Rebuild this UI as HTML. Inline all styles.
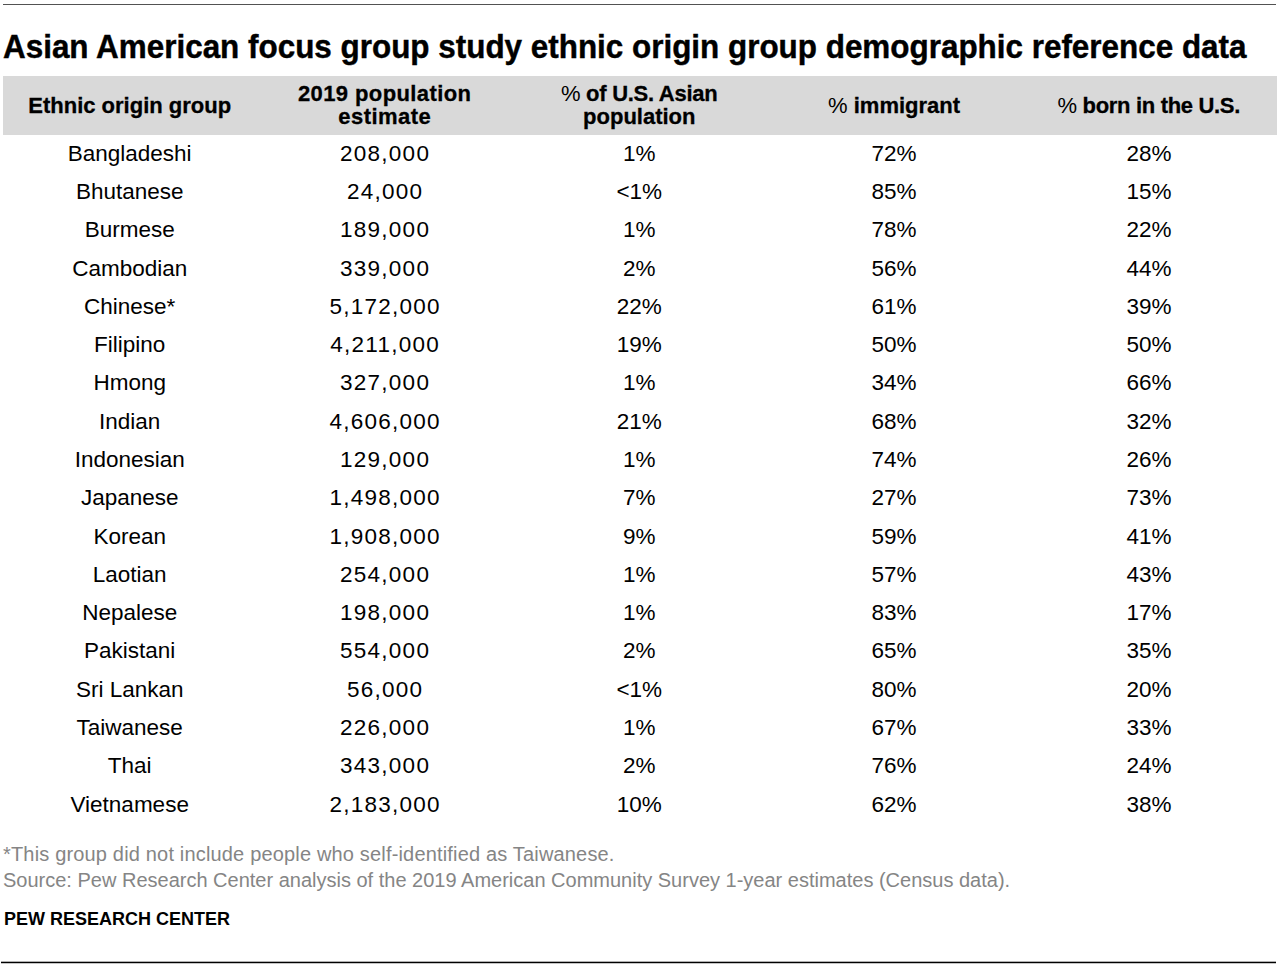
<!DOCTYPE html>
<html><head><meta charset="utf-8"><title>Asian American focus group study ethnic origin group demographic reference data</title>
<style>
html,body{margin:0;padding:0;background:#fff;}
body{width:1280px;height:968px;position:relative;overflow:hidden;font-family:"Liberation Sans",sans-serif;color:#000;}
.a{position:absolute;line-height:0;white-space:nowrap;}
.c{text-align:center;width:254.8px;}
.t{font-weight:bold;font-size:34px;left:2.5px;-webkit-text-stroke:0.45px #000;transform-origin:0 0;transform:scaleX(0.9240);}
.h{font-weight:bold;font-size:22px;-webkit-text-stroke:0.3px #000;}
.h i{font-style:normal;font-weight:normal;-webkit-text-stroke:0;}
.r{font-size:22.5px;}
.n{letter-spacing:1.25px;text-indent:1.25px;}
.f{font-size:20px;color:#858585;left:3px;}
.p{font-size:18px;font-weight:bold;left:4px;}
.ln{position:absolute;}
</style></head><body>

<div class="ln" style="left:3px;top:4px;width:1273px;height:1px;background:#525252"></div>
<div class="a t" style="top:46.01px">Asian American focus group study ethnic origin group demographic reference data</div>
<div class="ln" style="left:3px;top:76px;width:1274px;height:59px;background:#d9d9d9"></div>
<div class="a c h" style="left:2.3px;top:106.07px">Ethnic origin group</div>
<div class="a c h" style="left:257.1px;top:93.77px;letter-spacing:0.40px;text-indent:0.40px">2019 population</div>
<div class="a c h" style="left:257.1px;top:116.97px;letter-spacing:0.45px;text-indent:0.45px">estimate</div>
<div class="a c h" style="left:511.9px;top:93.77px;letter-spacing:-0.28px;text-indent:-0.28px"><i>%</i> of U.S. Asian</div>
<div class="a c h" style="left:511.9px;top:116.97px">population</div>
<div class="a c h" style="left:766.7px;top:106.07px"><i>%</i> immigrant</div>
<div class="a c h" style="left:1021.5px;top:106.07px;letter-spacing:-0.32px;text-indent:-0.32px"><i>%</i> born in the U.S.</div>
<div class="a c r" style="left:2.3px;top:153.70px">Bangladeshi</div>
<div class="a c r n" style="left:257.1px;top:153.70px">208,000</div>
<div class="a c r" style="left:511.9px;top:153.70px">1%</div>
<div class="a c r" style="left:766.7px;top:153.70px">72%</div>
<div class="a c r" style="left:1021.5px;top:153.70px">28%</div>
<div class="a c r" style="left:2.3px;top:191.99px">Bhutanese</div>
<div class="a c r n" style="left:257.1px;top:191.99px">24,000</div>
<div class="a c r" style="left:511.9px;top:191.99px">&lt;1%</div>
<div class="a c r" style="left:766.7px;top:191.99px">85%</div>
<div class="a c r" style="left:1021.5px;top:191.99px">15%</div>
<div class="a c r" style="left:2.3px;top:230.28px">Burmese</div>
<div class="a c r n" style="left:257.1px;top:230.28px">189,000</div>
<div class="a c r" style="left:511.9px;top:230.28px">1%</div>
<div class="a c r" style="left:766.7px;top:230.28px">78%</div>
<div class="a c r" style="left:1021.5px;top:230.28px">22%</div>
<div class="a c r" style="left:2.3px;top:268.57px">Cambodian</div>
<div class="a c r n" style="left:257.1px;top:268.57px">339,000</div>
<div class="a c r" style="left:511.9px;top:268.57px">2%</div>
<div class="a c r" style="left:766.7px;top:268.57px">56%</div>
<div class="a c r" style="left:1021.5px;top:268.57px">44%</div>
<div class="a c r" style="left:2.3px;top:306.86px">Chinese*</div>
<div class="a c r n" style="left:257.1px;top:306.86px">5,172,000</div>
<div class="a c r" style="left:511.9px;top:306.86px">22%</div>
<div class="a c r" style="left:766.7px;top:306.86px">61%</div>
<div class="a c r" style="left:1021.5px;top:306.86px">39%</div>
<div class="a c r" style="left:2.3px;top:345.15px">Filipino</div>
<div class="a c r n" style="left:257.1px;top:345.15px">4,211,000</div>
<div class="a c r" style="left:511.9px;top:345.15px">19%</div>
<div class="a c r" style="left:766.7px;top:345.15px">50%</div>
<div class="a c r" style="left:1021.5px;top:345.15px">50%</div>
<div class="a c r" style="left:2.3px;top:383.44px">Hmong</div>
<div class="a c r n" style="left:257.1px;top:383.44px">327,000</div>
<div class="a c r" style="left:511.9px;top:383.44px">1%</div>
<div class="a c r" style="left:766.7px;top:383.44px">34%</div>
<div class="a c r" style="left:1021.5px;top:383.44px">66%</div>
<div class="a c r" style="left:2.3px;top:421.73px">Indian</div>
<div class="a c r n" style="left:257.1px;top:421.73px">4,606,000</div>
<div class="a c r" style="left:511.9px;top:421.73px">21%</div>
<div class="a c r" style="left:766.7px;top:421.73px">68%</div>
<div class="a c r" style="left:1021.5px;top:421.73px">32%</div>
<div class="a c r" style="left:2.3px;top:460.02px">Indonesian</div>
<div class="a c r n" style="left:257.1px;top:460.02px">129,000</div>
<div class="a c r" style="left:511.9px;top:460.02px">1%</div>
<div class="a c r" style="left:766.7px;top:460.02px">74%</div>
<div class="a c r" style="left:1021.5px;top:460.02px">26%</div>
<div class="a c r" style="left:2.3px;top:498.31px">Japanese</div>
<div class="a c r n" style="left:257.1px;top:498.31px">1,498,000</div>
<div class="a c r" style="left:511.9px;top:498.31px">7%</div>
<div class="a c r" style="left:766.7px;top:498.31px">27%</div>
<div class="a c r" style="left:1021.5px;top:498.31px">73%</div>
<div class="a c r" style="left:2.3px;top:536.60px">Korean</div>
<div class="a c r n" style="left:257.1px;top:536.60px">1,908,000</div>
<div class="a c r" style="left:511.9px;top:536.60px">9%</div>
<div class="a c r" style="left:766.7px;top:536.60px">59%</div>
<div class="a c r" style="left:1021.5px;top:536.60px">41%</div>
<div class="a c r" style="left:2.3px;top:574.89px">Laotian</div>
<div class="a c r n" style="left:257.1px;top:574.89px">254,000</div>
<div class="a c r" style="left:511.9px;top:574.89px">1%</div>
<div class="a c r" style="left:766.7px;top:574.89px">57%</div>
<div class="a c r" style="left:1021.5px;top:574.89px">43%</div>
<div class="a c r" style="left:2.3px;top:613.18px">Nepalese</div>
<div class="a c r n" style="left:257.1px;top:613.18px">198,000</div>
<div class="a c r" style="left:511.9px;top:613.18px">1%</div>
<div class="a c r" style="left:766.7px;top:613.18px">83%</div>
<div class="a c r" style="left:1021.5px;top:613.18px">17%</div>
<div class="a c r" style="left:2.3px;top:651.47px">Pakistani</div>
<div class="a c r n" style="left:257.1px;top:651.47px">554,000</div>
<div class="a c r" style="left:511.9px;top:651.47px">2%</div>
<div class="a c r" style="left:766.7px;top:651.47px">65%</div>
<div class="a c r" style="left:1021.5px;top:651.47px">35%</div>
<div class="a c r" style="left:2.3px;top:689.76px">Sri Lankan</div>
<div class="a c r n" style="left:257.1px;top:689.76px">56,000</div>
<div class="a c r" style="left:511.9px;top:689.76px">&lt;1%</div>
<div class="a c r" style="left:766.7px;top:689.76px">80%</div>
<div class="a c r" style="left:1021.5px;top:689.76px">20%</div>
<div class="a c r" style="left:2.3px;top:728.05px">Taiwanese</div>
<div class="a c r n" style="left:257.1px;top:728.05px">226,000</div>
<div class="a c r" style="left:511.9px;top:728.05px">1%</div>
<div class="a c r" style="left:766.7px;top:728.05px">67%</div>
<div class="a c r" style="left:1021.5px;top:728.05px">33%</div>
<div class="a c r" style="left:2.3px;top:766.34px">Thai</div>
<div class="a c r n" style="left:257.1px;top:766.34px">343,000</div>
<div class="a c r" style="left:511.9px;top:766.34px">2%</div>
<div class="a c r" style="left:766.7px;top:766.34px">76%</div>
<div class="a c r" style="left:1021.5px;top:766.34px">24%</div>
<div class="a c r" style="left:2.3px;top:804.63px">Vietnamese</div>
<div class="a c r n" style="left:257.1px;top:804.63px">2,183,000</div>
<div class="a c r" style="left:511.9px;top:804.63px">10%</div>
<div class="a c r" style="left:766.7px;top:804.63px">62%</div>
<div class="a c r" style="left:1021.5px;top:804.63px">38%</div>
<div class="a f" style="top:854.07px;letter-spacing:0.17px">*This group did not include people who self-identified as Taiwanese.</div>
<div class="a f" style="top:879.57px">Source: Pew Research Center analysis of the 2019 American Community Survey 1-year estimates (Census data).</div>
<div class="a p" style="top:919.36px">PEW RESEARCH CENTER</div>
<div class="ln" style="left:1px;top:962px;width:1275px;height:1px;background:#000;box-shadow:0 -1px 0 #b0b0b0,0 1px 0 #c4c4c4"></div>
</body></html>
